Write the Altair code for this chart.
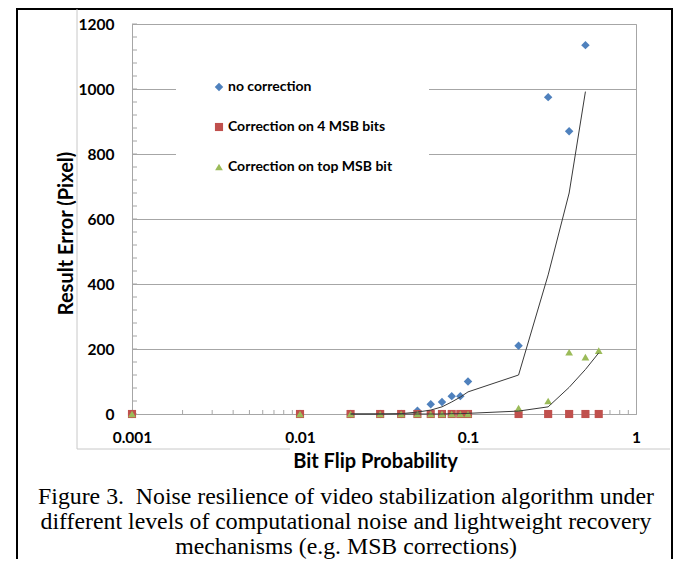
import altair as alt
import pandas as pd

# ---------------- data ----------------
flip_prob = [0.001, 0.01, 0.02, 0.03, 0.04, 0.05, 0.06, 0.07, 0.08, 0.09, 0.1, 0.2, 0.3, 0.4, 0.5, 0.6]
no_correction = [0, 0, 0, 0, 0, 10, 30, 37, 55, 55, 100, 210, 975, 870, 1135, None]
corr_4msb = [0, 0, 0, 0, 0, 0, 0, 0, 0, 0, 0, 0, 0, 0, 0, 0]
corr_top_msb = [0, 0, 0, 0, 0, 0, 0, 0, 0, 0, 0, 18, 40, 190, 175, 195]

trend_prob = [0.02, 0.03, 0.04, 0.05, 0.06, 0.07, 0.08, 0.09, 0.1, 0.2, 0.3, 0.4, 0.5, 0.6]
trend_no_correction = [0, 0, 1, 6, 12, 22, 37, 52, 68, 120, 428, 680, 992, None]
trend_top_msb = [0, 0, 0, 0, 0, 0, 1, 1, 2, 9, 22, 82, 137, 188]

series_names = ["no correction", "Correction on 4 MSB bits", "Correction on top MSB bit"]
series_colors = ["#4F81BD", "#C0504D", "#9BBB59"]
series_shapes = ["diamond", "square", "triangle-up"]
series_sizes = [72, 60, 115]

x_ticks = [0.001, 0.01, 0.1, 1]
x_minor = [0.002, 0.003, 0.004, 0.005, 0.006, 0.007, 0.008, 0.009,
           0.02, 0.03, 0.04, 0.05, 0.06, 0.07, 0.08, 0.09,
           0.2, 0.3, 0.4, 0.5, 0.6, 0.7, 0.8, 0.9]
y_ticks = [0, 200, 400, 600, 800, 1000, 1200]
y_minor = [0, 40, 80, 120, 160, 200, 240, 280, 320, 360, 400, 440, 480, 520, 560, 600,
           640, 680, 720, 760, 800, 840, 880, 920, 960, 1000, 1040, 1080, 1120, 1160, 1200]

caption = [
    "Figure 3.\u00a0 Noise resilience of video stabilization algorithm under",
    "different levels of computational noise and lightweight recovery",
    "mechanisms (e.g. MSB corrections)",
]

# ---------------- tables ----------------
rows = []
for name, vals in zip(series_names, [no_correction, corr_4msb, corr_top_msb]):
    for p, v in zip(flip_prob, vals):
        if v is not None:
            rows.append({"p": p, "err": v, "series": name})
points_df = pd.DataFrame(rows)

trow = []
for name, vals in zip(["trend no correction", "trend top MSB"], [trend_no_correction, trend_top_msb]):
    for p, v in zip(trend_prob, vals):
        if v is not None:
            trow.append({"p": p, "err": v, "trend": name})
trend_df = pd.DataFrame(trow)

xminor_df = pd.DataFrame({"p": x_minor})
yminor_df = pd.DataFrame({"err": y_minor})
one = pd.DataFrame({"d": [0]})

W, H = 504, 390
GRAY = "#a6a6a6"
FONT = "Lato"

xscale = alt.Scale(type="log", domain=[0.001, 1], nice=False)
yscale = alt.Scale(domain=[0, 1200], nice=False, zero=True)

x_axis = alt.Axis(values=x_ticks, format="~g", title="Bit Flip Probability", grid=False,
                  ticks=False, tickSize=0, labelPadding=16, titleX=243, titleY=47,
                  titleBaseline="middle", titleAlign="center", labelFlush=False)
y_axis = alt.Axis(values=y_ticks, format="d", title="Result Error (Pixel)", grid=True,
                  ticks=False, tickSize=0, labelPadding=18, titleAngle=270, titleX=-66,
                  titleY=209, titleBaseline="middle", titleAlign="center")

leg = alt.Legend(title=None, orient="none", legendX=44, legendY=20, fillColor="white",
                 padding=36, rowPadding=26, labelFont=FONT, labelFontWeight="bold",
                 labelFontSize=14, labelColor="black", symbolSize=36, labelOffset=2,
                 labelLimit=400, symbolStrokeWidth=0)

# ---------------- decorations ----------------
def vrule(x, y1, y2, color, w):
    return alt.Chart(one).mark_rule(color=color, strokeWidth=w).encode(
        x=alt.value(x), y=alt.value(y1), y2=alt.value(y2))

def hrule(y, x1, x2, color, w):
    return alt.Chart(one).mark_rule(color=color, strokeWidth=w).encode(
        y=alt.value(y), x=alt.value(x1), x2=alt.value(x2))

frame = [
    vrule(-115, -16, 535, "black", 2),
    hrule(-15, -116, 541, "black", 2),
    vrule(540, -16, 535, "black", 2),
]
chart_area = [
    vrule(-55, -15, 425, "#c8c8c8", 1),
    hrule(425, -55, 158, "#c8c8c8", 1),
    hrule(425, 329, 538, "#c8c8c8", 1),
]

caption_layers = [
    alt.Chart(one).mark_text(font="Liberation Serif", fontSize=23.8, color="black",
                             align="center", baseline="middle").encode(
        x=alt.value(214), y=alt.value(473 + 25 * i), text=alt.value(line))
    for i, line in enumerate(caption)
]

xminor = alt.Chart(xminor_df).mark_rule(color=GRAY, strokeWidth=1).encode(
    x=alt.X("p:Q", scale=xscale), y=alt.value(H), y2=alt.value(H - 4))
yminor = alt.Chart(yminor_df).mark_rule(color=GRAY, strokeWidth=1).encode(
    y=alt.Y("err:Q", scale=yscale), x=alt.value(0), x2=alt.value(5))

points = alt.Chart(points_df).mark_point(filled=True, opacity=1, strokeWidth=0).encode(
    x=alt.X("p:Q", scale=xscale, axis=x_axis),
    y=alt.Y("err:Q", scale=yscale, axis=y_axis),
    color=alt.Color("series:N", scale=alt.Scale(domain=series_names, range=series_colors), legend=leg),
    shape=alt.Shape("series:N", scale=alt.Scale(domain=series_names, range=series_shapes), legend=leg),
    size=alt.Size("series:N", scale=alt.Scale(domain=series_names, range=series_sizes), legend=None),
)

lines = alt.Chart(trend_df).mark_line(color="#3a3a3a", strokeWidth=1).encode(
    x=alt.X("p:Q", scale=xscale),
    y=alt.Y("err:Q", scale=yscale),
    detail="trend:N",
)

chart = alt.layer(
    *frame, *chart_area, *caption_layers, xminor, yminor, points, lines
).properties(
    width=W, height=H,
    padding={"left": 124, "top": 16, "right": 37, "bottom": 145},
    autosize=alt.AutoSizeParams(type="none"),
    background="white",
).configure_view(
    stroke=GRAY, strokeWidth=1
).configure_axis(
    labelFont=FONT, labelFontWeight="bold", labelFontSize=15.5, labelColor="black",
    titleFont=FONT, titleFontWeight="bold", titleFontSize=20, titleColor="black",
    domainColor=GRAY, gridColor=GRAY, gridWidth=1, domainWidth=1,
)

chart.save("out.html", embed_options={"renderer": "svg", "actions": False})
